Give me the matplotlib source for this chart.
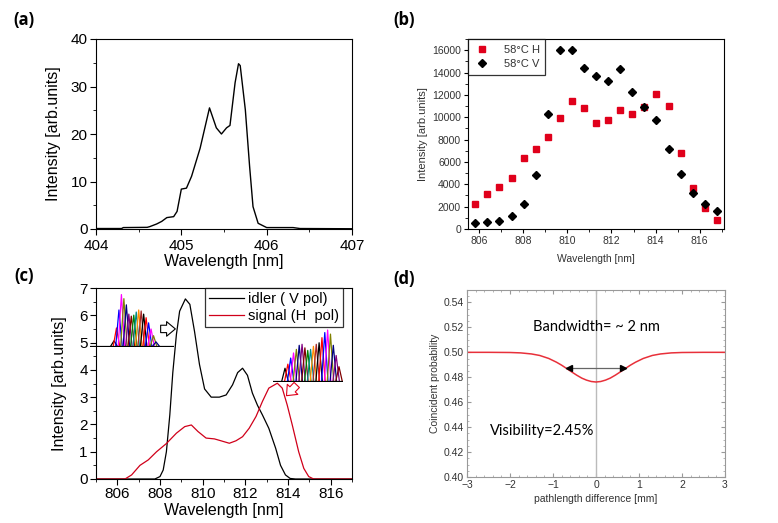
import numpy as np
import matplotlib
matplotlib.use("Agg")
import matplotlib.pyplot as plt
from matplotlib.ticker import MultipleLocator

plt.rcParams['font.family'] = ['Liberation Sans', 'DejaVu Sans']

# (a) pump spectrum
pump_wl = [404.0, 404.3, 404.32, 404.6, 404.63, 404.71, 404.77, 404.83, 404.91, 404.95, 405.0,
           405.06, 405.12, 405.22, 405.33, 405.41, 405.47, 405.53, 405.57, 405.63, 405.67,
           405.69, 405.75, 405.8, 405.84, 405.9, 406.0, 406.31, 406.39, 407.0]
pump_int = [0.1, 0.1, 0.3, 0.35, 0.5, 1.05, 1.6, 2.4, 2.6, 3.7, 8.4,
            8.6, 11.1, 17.0, 25.5, 21.3, 20.0, 21.3, 21.8, 30.8, 34.8,
            34.4, 25.1, 13.2, 4.7, 1.2, 0.3, 0.3, 0.1, 0.05]

# (b) measured points
b_wl = [805.83, 806.37, 806.92, 807.48, 808.02, 808.57, 809.13, 809.68, 810.21, 810.76, 811.3,
        811.85, 812.39, 812.95, 813.49, 814.04, 814.6, 815.15, 815.69, 816.22, 816.77]
b_H = [2200, 3150, 3780, 4550, 6350, 7200, 8200, 9950, 11450, 10800, 9450,
       9750, 10650, 10250, 10900, 12050, 11000, 6800, 3650, 1850, 850]
b_V = [500, 600, 750, 1200, 2200, 4800, 10300, 16000, 16000, 14450, 13650,
       13250, 14300, 12250, 10900, 9750, 7150, 4900, 3200, 2250, 1650]

# (c) idler / signal spectra
idler_wl = [805.0, 807.76, 808.0, 808.15, 808.3, 808.46, 808.6, 808.77, 808.92, 809.19, 809.4,
            809.62, 809.85, 810.09, 810.4, 810.78, 811.1, 811.4, 811.64, 811.87, 812.1, 812.33,
            812.57, 812.8, 813.1, 813.42, 813.65, 813.88, 814.1, 814.35, 817.0]
idler_int = [0.0, 0.0, 0.09, 0.33, 1.0, 2.35, 3.9, 5.3, 6.15, 6.6, 6.4,
             5.4, 4.2, 3.3, 3.0, 3.0, 3.08, 3.45, 3.9, 4.06, 3.8, 3.15,
             2.7, 2.35, 1.86, 1.13, 0.5, 0.15, 0.02, 0.0, 0.0]
signal_wl = [805.0, 806.36, 806.67, 807.06, 807.45, 807.84, 808.3, 808.77, 809.16, 809.47, 809.78,
             810.16, 810.55, 810.86, 811.25, 811.56, 811.87, 812.18, 812.5, 812.8, 813.1,
             813.5, 813.73, 813.96, 814.2, 814.5, 814.74, 814.97, 815.2, 817.0]
signal_int = [0.0, 0.0, 0.15, 0.5, 0.7, 1.0, 1.3, 1.68, 1.92, 1.98, 1.74,
              1.5, 1.47, 1.4, 1.31, 1.4, 1.55, 1.86, 2.29, 2.84, 3.33,
              3.51, 3.33, 2.72, 1.98, 1.0, 0.39, 0.09, 0.0, 0.0]

# (c) small comb insets: relative peak heights
left_peaks = [0.10, 0.35, 0.70, 1.00, 0.92, 0.80, 0.62, 0.58, 0.60, 0.66, 0.70,
              0.68, 0.62, 0.55, 0.45, 0.33, 0.20, 0.08]
right_peaks = [0.25, 0.33, 0.45, 0.55, 0.62, 0.70, 0.72, 0.65, 0.60, 0.62, 0.68,
               0.72, 0.75, 0.85, 0.95, 1.00, 0.92, 0.70, 0.50, 0.28]
comb_colors = ['black', 'red', 'blue', 'magenta', '#808000', 'navy', 'purple',
               '#800000', 'green', 'darkcyan', 'darkorange', 'brown']

# (d) HOM dip
d_x = [-3.0, -2.5, -2.0, -1.75, -1.5, -1.31, -1.1, -0.92, -0.8, -0.69, -0.57, -0.45,
       -0.33, -0.22, -0.11, 0.0, 0.11, 0.22, 0.33, 0.45, 0.57, 0.69, 0.8, 0.92,
       1.1, 1.31, 1.5, 1.75, 2.0, 2.5, 3.0]
d_p = [0.5, 0.5, 0.49987, 0.49955, 0.4987, 0.4975, 0.4951, 0.4921, 0.4897, 0.4872, 0.4844, 0.4817,
       0.4793, 0.4777, 0.4766, 0.4762, 0.4766, 0.4777, 0.4793, 0.4817, 0.4844, 0.4872, 0.4897, 0.4921,
       0.4951, 0.4975, 0.4987, 0.49955, 0.49987, 0.5, 0.5]
bw_arrow_x = 0.69
bw_arrow_y = 0.4872

W, H = 778, 523
fig = plt.figure(figsize=(W / 100, H / 100), dpi=100)

def px_axes(l, t, r, b):
    return fig.add_axes([l / W, (H - b) / H, (r - l) / W, (b - t) / H])

def comb(ax, heights, start, stop, halfw):
    n = len(heights)
    step = (stop - start) / (n - 1)
    for i, h in enumerate(heights):
        c = start + i * step
        ax.plot([c - halfw, c, c + halfw], [0, h, 0], color=comb_colors[i % len(comb_colors)], lw=0.9)

# ---- (a)
axA = px_axes(96, 39, 352, 229)
axA.plot(pump_wl, pump_int, color='black', lw=1)
axA.set_xlim(404, 407)
axA.set_ylim(0, 40)
axA.xaxis.set_major_locator(MultipleLocator(1))
axA.xaxis.set_minor_locator(MultipleLocator(0.5))
axA.yaxis.set_major_locator(MultipleLocator(10))
axA.yaxis.set_minor_locator(MultipleLocator(5))
axA.tick_params(labelsize=11, direction='out', length=4)
axA.tick_params(axis='x', pad=3)
axA.tick_params(axis='y', pad=2)
axA.tick_params(which='minor', direction='out', length=2.5)
axA.set_xlabel('Wavelength [nm]', fontsize=11.5, labelpad=1)
axA.set_ylabel('Intensity [arb.units]', fontsize=11.5, labelpad=7)

# ---- (b)
axB = px_axes(468, 39, 724, 229)
axB.plot(b_wl, b_H, 's', color='#e0001b', ms=4, label='58°C H', ls='none')
axB.plot(b_wl, b_V, 'D', color='black', ms=4.3, label='58°C V', ls='none')
axB.set_xlim(805.5, 817.1)
axB.set_ylim(0, 17000)
axB.xaxis.set_major_locator(MultipleLocator(2))
axB.xaxis.set_minor_locator(MultipleLocator(1))
axB.yaxis.set_major_locator(MultipleLocator(2000))
axB.yaxis.set_minor_locator(MultipleLocator(1000))
axB.tick_params(labelsize=7.5, labelcolor='#333333', direction='out', length=3, pad=2)
axB.tick_params(which='minor', direction='out', length=2)
axB.set_xlabel('Wavelength [nm]', fontsize=7.5, color='#333333', labelpad=6)
axB.set_ylabel('Intensity [arb.units]', fontsize=8, color='#333333', labelpad=3)
legB = axB.legend(loc='upper left', fontsize=8, frameon=True, fancybox=False, borderaxespad=0,
                  handletextpad=1.2, borderpad=0.5, labelspacing=0.4, handlelength=1.5)
legB.get_frame().set_edgecolor('black')
legB.get_frame().set_linewidth(0.9)
for t in legB.get_texts():
    t.set_color('#333333')

# ---- (c)
axC = px_axes(96, 288, 352, 479)
axC.plot(idler_wl, idler_int, color='black', lw=0.9, label='idler ( V pol)')
axC.plot(signal_wl, signal_int, color='#d0001a', lw=0.9, label='signal (H  pol)')
axC.set_xlim(805, 817)
axC.set_ylim(0, 7)
axC.xaxis.set_major_locator(MultipleLocator(2))
axC.xaxis.set_minor_locator(MultipleLocator(1))
axC.yaxis.set_major_locator(MultipleLocator(1))
axC.yaxis.set_minor_locator(MultipleLocator(0.5))
axC.tick_params(labelsize=11, direction='out', length=4, pad=2)
axC.tick_params(which='minor', direction='out', length=2.5)
axC.set_xlabel('Wavelength [nm]', fontsize=11.5, labelpad=1)
axC.set_ylabel('Intensity [arb.units]', fontsize=11.5, labelpad=9)
legC = axC.legend(loc='upper right', bbox_to_anchor=(0.965, 1.0), fontsize=10.5, frameon=True,
                  fancybox=False, borderaxespad=0, handlelength=2.4, borderpad=0.25,
                  labelspacing=0.25, handletextpad=0.3)
legC.get_frame().set_edgecolor('black')
legC.get_frame().set_linewidth(0.9)
hollow = 'simple,head_width=0.75,head_length=0.45,tail_width=0.38'
axC.annotate('', xy=(808.85, 5.5), xytext=(807.9, 5.5),
             arrowprops=dict(arrowstyle=hollow, fc='white', ec='black', lw=0.8, mutation_scale=14))
axC.annotate('', xy=(813.84, 2.98), xytext=(814.5, 3.52),
             arrowprops=dict(arrowstyle=hollow, fc='white', ec='#e0001b', lw=0.8, mutation_scale=14))

insL = px_axes(90, 292, 174, 347)
insL.set_xlim(0, 84)
insL.set_ylim(-0.02, 1.05)
comb(insL, left_peaks, 24, 66, 3.2)
insL.axhline(0, color='black', lw=0.9)
insL.axis('off')

insR = px_axes(273, 329, 343, 382)
insR.set_xlim(0, 70)
insR.set_ylim(-0.02, 1.02)
comb(insR, right_peaks, 12, 66, 3.2)
insR.axhline(0, color='black', lw=0.9)
insR.axis('off')

# ---- (d)
axD = px_axes(467, 290, 725, 477)
axD.axvline(0, color='#bbbbbb', lw=1)
axD.plot(d_x, d_p, color='#e8303a', lw=1.1)
axD.plot([-bw_arrow_x, bw_arrow_x], [bw_arrow_y, bw_arrow_y], color='#666666', lw=0.9)
axD.plot([-bw_arrow_x + 0.06], [bw_arrow_y], marker='<', color='black', ms=5)
axD.plot([bw_arrow_x - 0.06], [bw_arrow_y], marker='>', color='black', ms=5)
axD.set_xlim(-3, 3)
axD.set_ylim(0.40, 0.55)
axD.xaxis.set_major_locator(MultipleLocator(1))
axD.xaxis.set_minor_locator(MultipleLocator(0.2))
axD.yaxis.set_minor_locator(MultipleLocator(0.005))
axD.set_yticks([0.40, 0.42, 0.44, 0.46, 0.48, 0.50, 0.52, 0.54])
axD.set_yticklabels(['0.40', '0.42', '0.44', '0.46', '0.48', '0.50', '0.52', '0.54'])
axD.tick_params(labelsize=7.5, labelcolor='#333333', direction='in', length=3, color='#999999',
                top=True, right=True, pad=2)
axD.tick_params(which='minor', direction='in', length=1.5, color='#aaaaaa', top=True, right=True)
for s in axD.spines.values():
    s.set_color('#999999')
axD.set_xlabel('pathlength difference [mm]', fontsize=7.5, color='#333333', labelpad=3)
axD.set_ylabel('Coincident probability', fontsize=7.5, color='#333333', labelpad=3)
axD.text(0.0, 0.5205, 'Bandwidth= ~ 2 nm', fontsize=10.5, family=['Lato', 'DejaVu Sans'],
         ha='center', va='center')
axD.text(-2.47, 0.437, 'Visibility=2.45%', fontsize=10.5, family=['Lato', 'DejaVu Sans'],
         ha='left', va='center')

# panel labels
for lab, x, y in [('(a)', 24, 20), ('(b)', 404, 20), ('(c)', 24, 276), ('(d)', 404, 279)]:
    fig.text(x / W, 1 - y / H, lab, fontsize=12, fontweight='bold', family=['Open Sans', 'DejaVu Sans'],
             ha='center', va='center')

fig.savefig('out.png', dpi=100)
